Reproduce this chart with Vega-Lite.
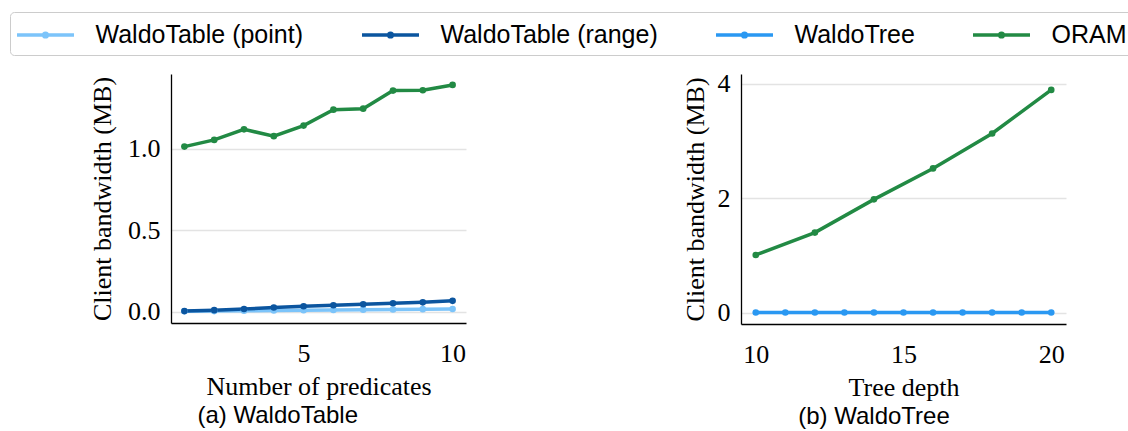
{
  "$schema": "https://vega.github.io/schema/vega-lite/v6.json",
  "padding": {"left": 9, "top": 11, "right": 0, "bottom": 0},
  "background": "white",
  "config": {
    "view": {"stroke": null},
    "axis": {"labelFont": "Liberation Serif", "labelFontSize": 26, "titleFont": "Liberation Serif", "titleFontSize": 26, "titleFontWeight": "normal", "labelColor": "#000", "titleColor": "#000", "domainColor": "#000", "domainWidth": 1.3, "ticks": false, "gridColor": "#e3e3e3", "gridWidth": 1.5, "labelPadding": 11},
    "axisX": {"grid": false, "labelPadding": 17, "titlePadding": 7},
    "title": {"font": "Liberation Sans", "fontSize": 24, "fontWeight": "normal", "orient": "bottom", "frame": "bounds", "anchor": "middle", "offset": 5, "color": "#000"},
    "legend": {
      "orient": "none", "legendX": -161, "legendY": -62, "direction": "horizontal", "columns": 4,
      "labelFont": "Liberation Sans", "labelFontSize": 25, "labelColor": "#000", "labelLimit": 400,
      "symbolType": "M-2,0H2M0.13,0A0.13,0.13 0 1 1 -0.13,0A0.13,0.13 0 1 1 0.13,0",
      "symbolSize": 812, "symbolStrokeWidth": 3.5, "symbolOffset": 12.5,
      "fillColor": "white", "strokeColor": "#cccccc", "cornerRadius": 4, "padding": 7,
      "columnPadding": 51, "labelOffset": 34, "title": null
    }
  },
  "datasets": {
    "table": [
      {"x": 1, "y": 0.002, "series": "WaldoTable (point)"},
      {"x": 2, "y": 0.003, "series": "WaldoTable (point)"},
      {"x": 3, "y": 0.005, "series": "WaldoTable (point)"},
      {"x": 4, "y": 0.007, "series": "WaldoTable (point)"},
      {"x": 5, "y": 0.009, "series": "WaldoTable (point)"},
      {"x": 6, "y": 0.010, "series": "WaldoTable (point)"},
      {"x": 7, "y": 0.012, "series": "WaldoTable (point)"},
      {"x": 8, "y": 0.013, "series": "WaldoTable (point)"},
      {"x": 9, "y": 0.015, "series": "WaldoTable (point)"},
      {"x": 10, "y": 0.016, "series": "WaldoTable (point)"},
      {"x": 1, "y": 0.003, "series": "WaldoTable (range)"},
      {"x": 2, "y": 0.009, "series": "WaldoTable (range)"},
      {"x": 3, "y": 0.016, "series": "WaldoTable (range)"},
      {"x": 4, "y": 0.025, "series": "WaldoTable (range)"},
      {"x": 5, "y": 0.033, "series": "WaldoTable (range)"},
      {"x": 6, "y": 0.039, "series": "WaldoTable (range)"},
      {"x": 7, "y": 0.045, "series": "WaldoTable (range)"},
      {"x": 8, "y": 0.051, "series": "WaldoTable (range)"},
      {"x": 9, "y": 0.057, "series": "WaldoTable (range)"},
      {"x": 10, "y": 0.066, "series": "WaldoTable (range)"},
      {"x": 1, "y": 1.014, "series": "ORAM"},
      {"x": 2, "y": 1.055, "series": "ORAM"},
      {"x": 3, "y": 1.12, "series": "ORAM"},
      {"x": 4, "y": 1.078, "series": "ORAM"},
      {"x": 5, "y": 1.143, "series": "ORAM"},
      {"x": 6, "y": 1.241, "series": "ORAM"},
      {"x": 7, "y": 1.247, "series": "ORAM"},
      {"x": 8, "y": 1.358, "series": "ORAM"},
      {"x": 9, "y": 1.36, "series": "ORAM"},
      {"x": 10, "y": 1.393, "series": "ORAM"}
    ],
    "tree": [
      {"x": 10, "y": 0.005, "series": "WaldoTree"},
      {"x": 11, "y": 0.005, "series": "WaldoTree"},
      {"x": 12, "y": 0.005, "series": "WaldoTree"},
      {"x": 13, "y": 0.005, "series": "WaldoTree"},
      {"x": 14, "y": 0.005, "series": "WaldoTree"},
      {"x": 15, "y": 0.005, "series": "WaldoTree"},
      {"x": 16, "y": 0.005, "series": "WaldoTree"},
      {"x": 17, "y": 0.005, "series": "WaldoTree"},
      {"x": 18, "y": 0.005, "series": "WaldoTree"},
      {"x": 19, "y": 0.005, "series": "WaldoTree"},
      {"x": 20, "y": 0.005, "series": "WaldoTree"},
      {"x": 10, "y": 1.01, "series": "ORAM"},
      {"x": 12, "y": 1.40, "series": "ORAM"},
      {"x": 14, "y": 1.98, "series": "ORAM"},
      {"x": 16, "y": 2.52, "series": "ORAM"},
      {"x": 18, "y": 3.13, "series": "ORAM"},
      {"x": 20, "y": 3.89, "series": "ORAM"}
    ]
  },
  "spacing": 215,
  "resolve": {"scale": {"color": "shared"}},
  "hconcat": [
    {
      "width": 295, "height": 249,
      "data": {"name": "table"},
      "title": "(a) WaldoTable",
      "mark": {"type": "line", "strokeWidth": 3.5, "point": {"size": 44, "filled": true}},
      "encoding": {
        "x": {"field": "x", "type": "quantitative", "title": "Number of predicates", "scale": {"domain": [0.55, 10.45], "nice": false, "zero": false}, "axis": {"values": [5, 10], "format": "d"}},
        "y": {"field": "y", "type": "quantitative", "title": "Client bandwidth (MB)", "scale": {"domain": [-0.07, 1.46], "nice": false, "zero": false}, "axis": {"values": [0, 0.5, 1.0], "format": ".1f", "titlePadding": 12}},
        "color": {"field": "series", "type": "nominal", "scale": {"domain": ["WaldoTable (point)", "WaldoTable (range)", "WaldoTree", "ORAM"], "range": ["#7cc4fa", "#0b559f", "#2a98f2", "#228a44"]}}
      }
    },
    {
      "width": 325, "height": 250,
      "data": {"name": "tree"},
      "title": "(b) WaldoTree",
      "mark": {"type": "line", "strokeWidth": 3.5, "point": {"size": 44, "filled": true}},
      "encoding": {
        "x": {"field": "x", "type": "quantitative", "title": "Tree depth", "scale": {"domain": [9.5, 20.5], "nice": false, "zero": false}, "axis": {"values": [10, 15, 20], "format": "d"}},
        "y": {"field": "y", "type": "quantitative", "title": "Client bandwidth (MB)", "scale": {"domain": [-0.195, 4.168], "nice": false, "zero": false}, "axis": {"values": [0, 2, 4], "format": "d", "titlePadding": 9}},
        "color": {"field": "series", "type": "nominal", "scale": {"domain": ["WaldoTable (point)", "WaldoTable (range)", "WaldoTree", "ORAM"], "range": ["#7cc4fa", "#0b559f", "#2a98f2", "#228a44"]}}
      }
    }
  ]
}
